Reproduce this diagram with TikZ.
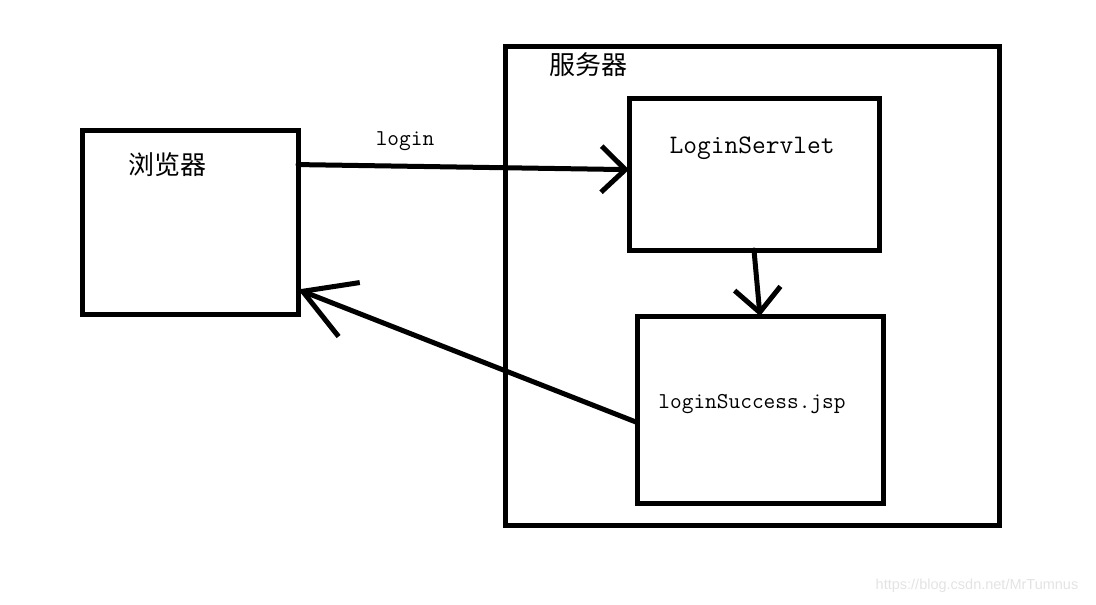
\documentclass[tikz,border=0pt]{standalone}
\usepackage{fontspec}
\usetikzlibrary{arrows.meta}
\newfontfamily\cjk{Noto Sans CJK SC}
\newfontfamily\wmfont{Liberation Sans}
\tikzset{
	box/.style={draw,line width=5pt,outer sep=0pt,inner sep=0pt},
	barb/.style={-{Straight Barb[length=24pt,width=46pt]},line width=5pt,line cap=round,line join=round},
	lbl/.style={inner sep=0pt},
}

\begin{document}
\begin{tikzpicture}[x=1pt,y=-1pt]
	\useasboundingbox (0,0) rectangle (1096,605);

	\node[box,minimum width=216pt,minimum height=184pt] at (190,222)(browser){};
	\node[lbl,font=\cjk\fontsize{26}{30}\selectfont] at (167,165){浏览器};

	\node[box,minimum width=494pt,minimum height=479pt] at (752,285.5)(server){};
	\node[lbl,font=\cjk\fontsize{26}{30}\selectfont] at (588,65){服务器};

	\node[box,minimum width=250pt,minimum height=152pt] at (754,174)(servlet){};
	\node[lbl,font=\ttfamily\fontsize{26.7}{30}\selectfont] at (752,148){LoginServlet};

	\node[box,minimum width=246pt,minimum height=187pt] at (760,409.5)(jsp){};
	\node[lbl,font=\ttfamily\fontsize{22.7}{26}\selectfont] at (752,404){loginSuccess.jsp};

	\node[lbl,font=\ttfamily\fontsize{22.7}{26}\selectfont] at (405,141)(login){login};
	\path[barb](browser.28.6)edge(servlet.178.2)(servlet.south)edge(jsp.north);
	\draw[barb,-{Straight Barb[length=50pt,width=58pt]}](jsp.186.4)--(browser.-32);

	\node[lbl,font=\wmfont\fontsize{14.5}{16}\selectfont,text=black!11] at (977,586){https://blog.csdn.net/MrTumnus};
\end{tikzpicture}
\end{document}
